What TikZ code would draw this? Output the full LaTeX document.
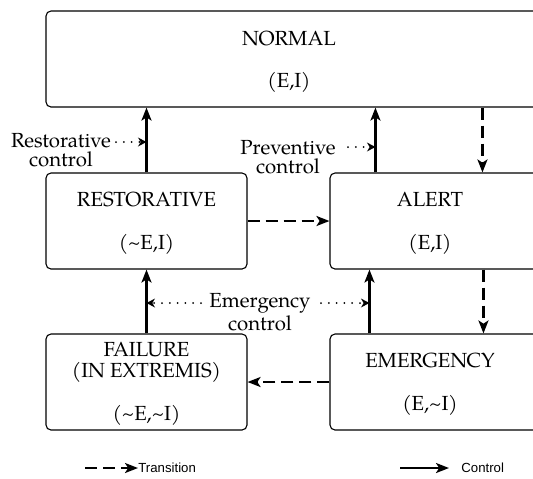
\documentclass[tikz,border=0pt]{standalone}
\usepackage{fontspec}
\setmainfont{TeX Gyre Pagella}
\newfontfamily\legendfont{Liberation Sans}
\usetikzlibrary{arrows.meta}
\begin{document}
\begin{tikzpicture}[x=0.5pt,y=-0.5pt,
  box/.style={draw, line width=0.55pt, rounded corners=2.5pt, minimum height=48pt, inner sep=0pt},
  lbl/.style={font=\fontsize{10.2}{11}\selectfont, align=center, inner sep=0pt},
  side/.style={font=\fontsize{10.2}{9.7}\selectfont, align=center, inner sep=0pt},
  legend/.style={font=\legendfont\fontsize{6.6}{7.5}\selectfont, inner sep=0pt},
  tip/.style={-{Stealth[length=6.5pt,width=5pt,inset=1.6pt]}},
  ctrl/.style={tip, line width=1.1pt},
  trans/.style={tip, line width=1.1pt, dash pattern=on 6pt off 3pt},
  dotarr/.style={line width=1pt, line cap=round, dash pattern=on 0pt off 3.9pt,
    -{Stealth[length=4.2pt,width=4.4pt,inset=1.3pt]}}]
\useasboundingbox (0,0) rectangle (533,478);
\clip (0,0) rectangle (533,478);

% boxes
\node[box, minimum width=247pt] (normal) at (293,59) {};
\node[box, minimum width=100.5pt] (restorative) at (146.5,221) {};
\node[box, minimum width=105pt] (alert) at (435,221) {};
\node[box, minimum width=100.5pt] (failure) at (146.5,382) {};
\node[box, minimum width=105pt] (emergency) at (435,382) {};

% box texts
\node[lbl] (normaltxt) at (289,62) {NORMAL\\[10pt](E,I)};
\node[lbl] (restorativetxt) at (146.5,223) {RESTORATIVE\\[10.5pt](\textasciitilde E,I)};
\node[lbl] (alerttxt) at (430,223) {ALERT\\[10.5pt](E,I)};
\node[lbl, font=\fontsize{10.2}{10.5}\selectfont] (failuretxt) at (146.5,384)
  {FAILURE\\(IN EXTREMIS)\\[11pt](\textasciitilde E,\textasciitilde I)};
\node[lbl] (emergencytxt) at (430,384) {EMERGENCY\\[10.5pt](E,\textasciitilde I)};

% control arrows
\coordinate (ac) at ([xshift=23pt]alert.north west);
\coordinate (at) at ([xshift=76.5pt]alert.north west);
\coordinate (ab) at ([xshift=77pt]alert.south west);
\coordinate (ec) at ([xshift=20pt]emergency.north west);
\draw[ctrl] (restorative.north) -- (restorative.north |- normal.south);
\draw[ctrl] (ac) -- (ac |- normal.south);
\draw[ctrl] (failure.north) -- (restorative.south);
\draw[ctrl] (ec) -- (ec |- alert.south);

% transitions
\draw[trans] (at |- normal.south) -- (at);
\draw[trans] (ab) -- (ab |- emergency.north);
\draw[trans] (restorative.east) -- (alert.west);
\draw[trans] (emergency.west) -- (failure.east);

% side labels
\node[side] (restlbl) at (61,150) {Restorative\\control};
\coordinate (rdot) at (116,142);
\draw[dotarr] (rdot) -- (rdot -| restorative.north);

\node[side] (prevlbl) at (288,157) {Preventive\\control};
\coordinate (pdot) at (348,147);
\draw[dotarr] (pdot) -- (pdot -| ac);

\node[side] (emlbl) at (260,312) {Emergency\\control};
\coordinate (edl) at (201,303);
\coordinate (edr) at (321,303);
\draw[dotarr] (edl) -- (edl -| failure.north);
\draw[dotarr] (edr) -- (edr -| ec);

% legend
\node[legend, anchor=west] (translbl) at (138,468) {Transition};
\coordinate (tstart) at (85,468);
\draw[trans] (tstart) -- (translbl.west);
\node[legend, anchor=west] (ctrllbl) at (461,468) {Control};
\coordinate (cstart) at (400,468);
\coordinate (cend) at (449,468);
\draw[ctrl] (cstart) -- (cend);
\end{tikzpicture}
\end{document}
